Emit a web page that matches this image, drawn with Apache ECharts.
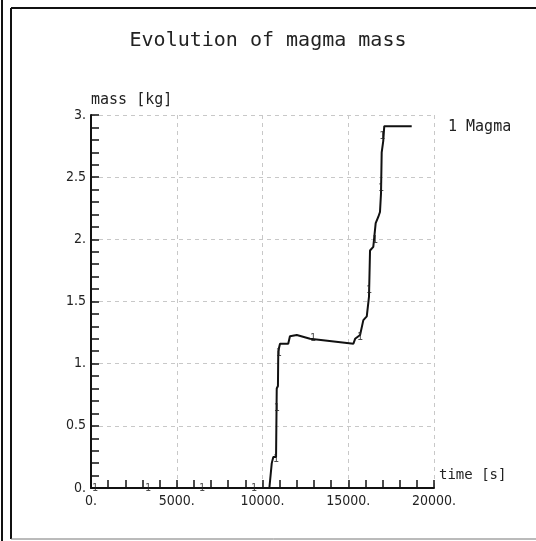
<!DOCTYPE html>
<html>
<head>
<meta charset="utf-8">
<style>
html,body{margin:0;padding:0;background:#fff;}
#chart{width:536px;height:541px;}
</style>
<script src="https://cdn.jsdelivr.net/npm/echarts@6/dist/echarts.min.js"></script>
</head>
<body>
<div id="chart"></div>
<script>
// ---- data ----
var titleText = 'Evolution of magma mass';
var seriesName = 'Magma';
var xAxisName = 'time [s]';
var yAxisName = 'mass [kg]';
var timeValues = [0, 10000, 10400, 10540, 10630, 10790, 10830, 10830, 10900, 10920, 11020, 11500, 11600, 12000, 12770, 15300, 15400, 15690, 15880, 16080, 16210, 16270, 16460, 16600, 16750, 16850, 16910, 16950, 17040, 17100, 18700];
var massValues = [0, 0, 0, 0.20, 0.25, 0.25, 0.25, 0.80, 0.82, 1.10, 1.16, 1.16, 1.22, 1.23, 1.20, 1.16, 1.20, 1.23, 1.35, 1.38, 1.54, 1.91, 1.94, 2.13, 2.18, 2.22, 2.37, 2.70, 2.79, 2.91, 2.91];
var markerTimes = [230, 3330, 6470, 9500, 10790, 10830, 10950, 12950, 15690, 16210, 16560, 16910, 16990];
var markerMass = [0, 0, 0, 0, 0.23, 0.64, 1.08, 1.20, 1.21, 1.59, 1.99, 2.41, 2.83];
var xTicks = [0, 5000, 10000, 15000, 20000];
var yTicks = [0, 0.5, 1, 1.5, 2, 2.5, 3];

var lineData = timeValues.map(function (t, i) { return [t, massValues[i]]; });
var markerData = markerTimes.map(function (t, i) { return [t, markerMass[i]]; });

function numLabel(v) {
  var s = String(v);
  return s.indexOf('.') < 0 ? s + '.' : s;
}

var numFont = 'DejaVu Sans Condensed, DejaVu Sans, sans-serif';
var textFont = 'DejaVu Sans Mono, Liberation Mono, monospace';

var chart = echarts.init(document.getElementById('chart'), null, {renderer: 'canvas'});
chart.setOption({
  backgroundColor: '#fff',
  animation: false,
  title: {
    text: titleText,
    left: 'center',
    top: 26,
    textStyle: {fontFamily: textFont, fontSize: 20, fontWeight: 'normal', color: '#222'}
  },
  legend: {
    data: [seriesName],
    icon: 'none',
    itemWidth: 0,
    itemGap: 0,
    left: 438,
    top: 115,
    formatter: function (n) { return '1 ' + n; },
    textStyle: {fontFamily: textFont, fontSize: 15, color: '#222'}
  },
  grid: {left: 91, top: 115, width: 343, height: 373, containLabel: false},
  xAxis: {
    type: 'value',
    min: xTicks[0],
    max: xTicks[xTicks.length - 1],
    interval: 5000,
    name: xAxisName,
    nameLocation: 'end',
    nameGap: 5,
    nameTextStyle: {fontFamily: textFont, fontSize: 14, color: '#222', align: 'left', verticalAlign: 'bottom', padding: [0, 0, 6, 0]},
    axisLine: {show: true, onZero: false, lineStyle: {color: '#111', width: 2}},
    axisTick: {show: true, inside: true, length: 8, lineStyle: {color: '#111', width: 1.5}},
    minorTick: {show: true, splitNumber: 5, length: 8, lineStyle: {color: '#111', width: 1.5}},
    axisLabel: {formatter: numLabel, fontFamily: numFont, fontSize: 14, color: '#222', margin: 6},
    splitLine: {show: true, lineStyle: {color: '#c8c8c8', type: [4, 4], width: 1}}
  },
  yAxis: {
    type: 'value',
    min: yTicks[0],
    max: yTicks[yTicks.length - 1],
    interval: 0.5,
    name: yAxisName,
    nameLocation: 'end',
    nameGap: 3,
    nameTextStyle: {fontFamily: textFont, fontSize: 15, color: '#222', align: 'left', verticalAlign: 'bottom'},
    axisLine: {show: true, onZero: false, lineStyle: {color: '#111', width: 2}},
    axisTick: {show: true, inside: true, length: 8, lineStyle: {color: '#111', width: 1.5}},
    minorTick: {show: true, splitNumber: 5, length: 8, lineStyle: {color: '#111', width: 1.5}},
    axisLabel: {formatter: numLabel, fontFamily: numFont, fontSize: 14, color: '#222', margin: 5},
    splitLine: {show: true, lineStyle: {color: '#c8c8c8', type: [4, 4], width: 1}}
  },
  series: [
    {
      name: seriesName,
      type: 'line',
      data: lineData,
      showSymbol: false,
      symbol: 'none',
      lineStyle: {color: '#111', width: 2},
      itemStyle: {color: '#111'},
      z: 3
    },
    {
      name: seriesName + ' labels',
      type: 'scatter',
      data: markerData,
      symbolSize: 1,
      itemStyle: {color: 'rgba(0,0,0,0)'},
      label: {
        show: true,
        position: 'inside',
        formatter: '1',
        fontFamily: textFont,
        fontSize: 10,
        color: '#222'
      },
      z: 4
    }
  ],
  graphic: [
    {type: 'line', shape: {x1: 2, y1: 0, x2: 2, y2: 541}, style: {stroke: '#111', lineWidth: 2}},
    {type: 'line', shape: {x1: 11, y1: 8, x2: 536, y2: 8}, style: {stroke: '#111', lineWidth: 2}},
    {type: 'line', shape: {x1: 11, y1: 8, x2: 11, y2: 539}, style: {stroke: '#111', lineWidth: 2}},
    {type: 'line', shape: {x1: 11, y1: 539, x2: 536, y2: 539}, style: {stroke: '#777', lineWidth: 1}}
  ]
});
</script>
</body>
</html>
